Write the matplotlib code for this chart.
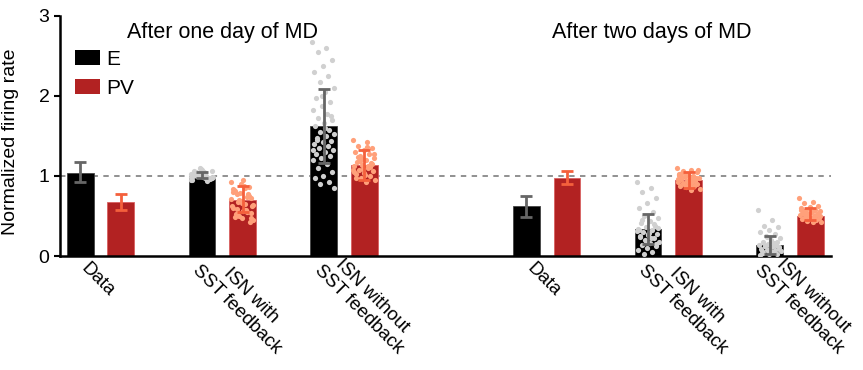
import matplotlib
matplotlib.use("Agg")
import matplotlib.pyplot as plt
import matplotlib.transforms as mtransforms
from matplotlib.patches import Patch
import numpy as np

plt.rcParams['font.family'] = ['Liberation Sans', 'DejaVu Sans']

# groups: day 1 (Data, ISN with, ISN without), day 2 (same)
group_labels = ['Data', 'ISN with\nSST feedback', 'ISN without\nSST feedback',
                'Data', 'ISN with\nSST feedback', 'ISN without\nSST feedback']
group_pos = [0, 3, 6, 11, 14, 17]

e_mean = [1.04, 1.00, 1.62, 0.62, 0.34, 0.14]
e_low = [0.92, 0.97, 1.16, 0.49, 0.15, 0.03]
e_high = [1.17, 1.05, 2.09, 0.75, 0.53, 0.25]

pv_mean = [0.67, 0.70, 1.14, 0.97, 0.95, 0.50]
pv_low = [0.58, 0.55, 0.95, 0.90, 0.85, 0.45]
pv_high = [0.77, 0.87, 1.32, 1.06, 1.05, 0.60]

# model samples
e_with_d1 = [1.02, 0.98, 1.05, 0.96, 1.08, 1.00, 0.94, 1.03, 1.06, 0.99, 1.01, 0.97,
             1.10, 0.95, 1.04, 1.00, 0.98, 1.07, 1.02, 0.96, 1.03, 0.99, 1.05, 1.01,
             0.97, 1.09, 0.95, 1.00, 1.04, 0.98, 1.02, 1.06, 0.96, 1.01, 0.99, 1.03]
pv_with_d1 = [0.92, 0.85, 0.78, 0.72, 0.66, 0.60, 0.55, 0.50, 0.45, 0.88, 0.81, 0.75,
              0.69, 0.63, 0.57, 0.52, 0.47, 0.95, 0.83, 0.77, 0.70, 0.64, 0.58, 0.53,
              0.43, 0.90, 0.80, 0.74, 0.68, 0.62, 0.56, 0.49, 0.86, 0.79, 0.71, 0.65,
              0.59, 0.54, 0.48, 0.84, 0.76]
e_without_d1 = [2.68, 2.60, 2.55, 2.45, 2.38, 2.30, 2.25, 2.18, 2.10, 2.05, 1.98, 1.92,
                1.88, 1.82, 1.78, 1.72, 1.70, 1.66, 1.62, 1.58, 1.55, 1.52, 1.50, 1.47,
                1.44, 1.42, 1.40, 1.37, 1.35, 1.32, 1.30, 1.27, 1.25, 1.22, 1.20, 1.15,
                1.10, 1.05, 1.00, 0.97, 0.93, 0.90, 0.85, 1.60, 1.45, 1.75, 2.00, 1.33]
pv_without_d1 = [1.45, 1.42, 1.38, 1.35, 1.32, 1.30, 1.28, 1.25, 1.22, 1.20, 1.18, 1.16,
                 1.14, 1.12, 1.10, 1.08, 1.06, 1.04, 1.02, 1.00, 0.98, 0.95, 0.92, 1.24,
                 1.15, 1.09, 1.05, 1.13, 1.19, 1.27, 1.01, 0.97, 1.11, 1.21, 1.07, 1.36]
e_with_d2 = [0.93, 0.85, 0.80, 0.72, 0.66, 0.60, 0.55, 0.50, 0.47, 0.44, 0.41, 0.38,
             0.36, 0.34, 0.32, 0.30, 0.28, 0.26, 0.24, 0.22, 0.20, 0.18, 0.16, 0.14,
             0.12, 0.10, 0.08, 0.05, 0.02, 0.35, 0.29, 0.25, 0.40, 0.19, 0.31, 0.23,
             0.45, 0.15, 0.27, 0.33]
pv_with_d2 = [1.10, 1.08, 1.06, 1.05, 1.03, 1.02, 1.00, 0.99, 0.98, 0.97, 0.96, 0.95,
              0.94, 0.93, 0.92, 0.91, 0.90, 0.89, 0.88, 0.87, 0.86, 0.84, 0.82, 1.04,
              0.97, 0.93, 1.01, 0.95, 0.90, 1.07, 0.88, 0.99, 0.94, 1.02, 0.96]
e_without_d2 = [0.57, 0.45, 0.38, 0.36, 0.33, 0.30, 0.27, 0.25, 0.22, 0.20, 0.18, 0.17,
                0.15, 0.14, 0.13, 0.12, 0.11, 0.10, 0.09, 0.08, 0.07, 0.06, 0.05, 0.04,
                0.03, 0.02, 0.01, 0.16, 0.12, 0.09, 0.19, 0.06, 0.14, 0.24]
pv_without_d2 = [0.72, 0.68, 0.66, 0.63, 0.61, 0.60, 0.58, 0.57, 0.56, 0.55, 0.54, 0.53,
                 0.52, 0.51, 0.50, 0.49, 0.48, 0.47, 0.46, 0.45, 0.44, 0.43, 0.42, 0.55,
                 0.52, 0.49, 0.58, 0.47, 0.53, 0.50]

e_samples = {1: e_with_d1, 2: e_without_d1, 4: e_with_d2, 5: e_without_d2}
pv_samples = {1: pv_with_d1, 2: pv_without_d1, 4: pv_with_d2, 5: pv_without_d2}

E_COLOR = 'black'
PV_COLOR = '#b22222'
E_DOT = '#d0d0d0'
PV_DOT = '#ffa07a'
E_ERR = '#666666'
PV_ERR = '#f4603c'

off = 0.5
width = 0.66


def jitter(n, spread=0.28):
    # spread the dots across the bar, deterministic
    k = np.arange(n)
    return ((k * 0.6180339887) % 1.0 - 0.5) * 2 * spread


fig = plt.figure(figsize=(8.63, 3.70), dpi=100)
ax = fig.add_axes([0.0695, 0.308, 0.893, 0.649])

gp = np.array(group_pos, dtype=float)
ax.axhline(1.0, color='#888888', ls=(0, (3, 3)), lw=1.3, zorder=1)

ax.bar(gp - off, e_mean, width, color=E_COLOR, edgecolor='#444444', lw=0.6, zorder=2)
ax.bar(gp + off, pv_mean, width, color=PV_COLOR, edgecolor='#d86060', lw=0.6, zorder=2)

for i, vals in e_samples.items():
    v = np.array(vals)
    ax.scatter(gp[i] - off + jitter(len(v)), v, s=14, color=E_DOT, lw=0, zorder=3)
for i, vals in pv_samples.items():
    v = np.array(vals)
    ax.scatter(gp[i] + off + jitter(len(v)), v, s=14, color=PV_DOT, lw=0, zorder=3)

em = np.array(e_mean)
pm = np.array(pv_mean)
ax.errorbar(gp - off, em, yerr=[em - np.array(e_low), np.array(e_high) - em],
            fmt='none', ecolor=E_ERR, elinewidth=2, capsize=4, capthick=2, zorder=4)
ax.errorbar(gp + off, pm, yerr=[pm - np.array(pv_low), np.array(pv_high) - pm],
            fmt='none', ecolor=PV_ERR, elinewidth=2, capsize=4, capthick=2, zorder=4)

ax.set_xlim(-1.0, 18.0)
ax.set_ylim(0, 3)
ax.set_yticks([0, 1, 2, 3])
ax.tick_params(axis='y', labelsize=14, width=1.5, length=4)
ax.set_ylabel('Normalized firing rate', fontsize=14)
ax.yaxis.set_label_coords(-0.053, 0.475)

ax.set_xticks(gp)
ax.set_xticklabels(group_labels, rotation=-45, ha='left', va='top',
                   rotation_mode='anchor', fontsize=13.6, multialignment='center',
                   linespacing=1.2)
ax.tick_params(axis='x', length=0, pad=3)
# nudge labels (pixels): single-line vs two-line, last one kept inside the figure
nudges = [(-11, 0), (-7, 12), (-7, 12), (-11, 0), (-7, 12), (-13, 12)]
for lab, (dx, dy) in zip(ax.get_xticklabels(), nudges):
    shift = mtransforms.ScaledTranslation(dx / 100, dy / 100, fig.dpi_scale_trans)
    lab.set_transform(lab.get_transform() + shift)

for s in ['top', 'right']:
    ax.spines[s].set_visible(False)
for s in ['left', 'bottom']:
    ax.spines[s].set_linewidth(1.8)

ax.text(3, 2.79, 'After one day of MD', ha='center', va='center', fontsize=15.5)
ax.text(13.6, 2.79, 'After two days of MD', ha='center', va='center', fontsize=15.5)

handles = [Patch(facecolor=E_COLOR, label='E'), Patch(facecolor=PV_COLOR, label='PV')]
ax.legend(handles=handles, loc='upper left', bbox_to_anchor=(0.0, 0.92), frameon=False,
          fontsize=15, handlelength=1.2, handleheight=0.75, handletextpad=0.3,
          labelspacing=0.5, borderaxespad=0.3)

fig.savefig('out.png', dpi=100)
